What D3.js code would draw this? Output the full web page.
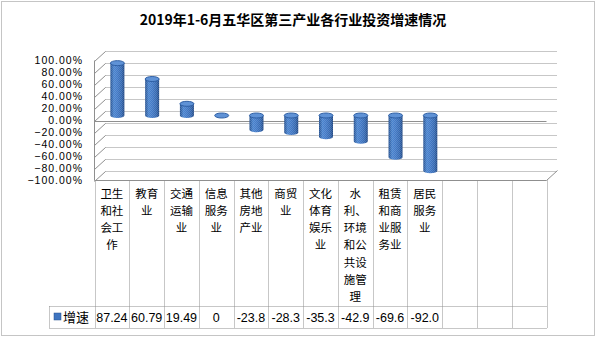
<!DOCTYPE html>
<html><head><meta charset="utf-8">
<script src="https://cdn.jsdelivr.net/npm/d3@7"></script>
<style>html,body{margin:0;padding:0;background:#fff;}svg{display:block;}</style>
</head><body>
<script>
const title = "2019年1-6月五华区第三产业各行业投资增速情况";
const seriesName = "增速";
const categories = ["卫生和社会工作","教育业","交通运输业","信息服务业","其他房地产业","商贸业","文化体育娱乐业","水利、环境和公共设施管理","租赁和商业服务业","居民服务业","","",""];
const values = [87.24, 60.79, 19.49, 0, -23.8, -28.3, -35.3, -42.9, -69.6, -92.0];
const valueLabels = ["87.24","60.79","19.49","0","-23.8","-28.3","-35.3","-42.9","-69.6","-92.0"];
const yTicks = [100, 80, 60, 40, 20, 0, -20, -40, -60, -80, -100];

const W = 596, H = 337;
const svg = d3.select("body").append("svg").attr("width", W).attr("height", H);

const defs = svg.append("defs");
const g1 = defs.append("linearGradient").attr("id","cyl").attr("x1","0").attr("x2","1").attr("y1","0").attr("y2","0");
[["0%","#24508f"],["25%","#4a84cf"],["50%","#4279c6"],["80%","#3367b0"],["100%","#1f4682"]].forEach(([o,c])=>g1.append("stop").attr("offset",o).attr("stop-color",c));
const pat = defs.append("pattern").attr("id","dith").attr("width",2).attr("height",2).attr("patternUnits","userSpaceOnUse");
pat.append("rect").attr("width",1).attr("height",1).attr("fill","#ffffff").attr("opacity",0.15);
pat.append("rect").attr("x",1).attr("y",1).attr("width",1).attr("height",1).attr("fill","#ffffff").attr("opacity",0.15);

svg.append("rect").attr("x",1.5).attr("y",1.5).attr("width",593).attr("height",334)
  .attr("fill","none").attr("stroke","#8a8a8a").attr("stroke-dasharray","1 1");

svg.append("text").attr("x",293).attr("y",25).attr("text-anchor","middle")
  .attr("font-family","'Noto Sans CJK SC', sans-serif").attr("font-weight","bold").attr("font-size",14)
  .attr("fill","#000").text(title);

const left = 94.5, right = 546.5;
const dx = 11, dy = -10;
const x = d3.scaleBand().domain(d3.range(categories.length)).range([left, right]).padding(0);
const y = d3.scaleLinear().domain([-100, 100]).range([180.5, 60.5]);
const grid = "#8f8f8f";

const gg = svg.append("g");
yTicks.forEach(t => {
  const yf = Math.round(y(t)) + 0.5;
  gg.append("line").attr("x1",left+dx).attr("x2",right+dx).attr("y1",yf+dy).attr("y2",yf+dy)
    .attr("stroke",grid).attr("stroke-dasharray","1 1");
  gg.append("line").attr("x1",left).attr("x2",left+dx).attr("y1",yf).attr("y2",yf+dy)
    .attr("stroke",grid);
});
gg.append("line").attr("x1",left).attr("x2",left).attr("y1",y(100)).attr("y2",y(-100)).attr("stroke",grid);
gg.append("line").attr("x1",left).attr("x2",right).attr("y1",Math.round(y(0))+0.5).attr("y2",Math.round(y(0))+0.5).attr("stroke",grid);
gg.append("line").attr("x1",right).attr("x2",right+dx).attr("y1",y(-100)).attr("y2",y(-100)+dy).attr("stroke",grid);

svg.append("g").selectAll("text").data(yTicks).join("text")
  .attr("x",83).attr("y",d=>y(d)).attr("dy","0.35em").attr("text-anchor","end")
  .attr("font-family","'Liberation Sans', Arial, sans-serif").attr("font-size",10.5)
  .attr("letter-spacing","1px").attr("fill","#000")
  .text(d=>d3.format(".2f")(d)+"%");

const rx = 7, ry = 2.5;
const ymid = v => y(v) + dy/2;
const cg = svg.append("g");
values.forEach((v,i) => {
  const cx = x(i) + x.bandwidth()/2 + dx/2;
  const yUp = Math.min(ymid(v), ymid(0));
  const yLo = Math.max(ymid(v), ymid(0));
  const body = `M${cx-rx},${yUp} L${cx-rx},${yLo} A${rx},${ry} 0 0 0 ${cx+rx},${yLo} L${cx+rx},${yUp} Z`;
  if (yLo - yUp > 0.5) {
    cg.append("path").attr("d",body).attr("fill","url(#cyl)");
    cg.append("path").attr("d",body).attr("fill","url(#dith)");
  }
  cg.append("ellipse").attr("cx",cx).attr("cy",yUp).attr("rx",rx).attr("ry",ry)
    .attr("fill","#5f92d6").attr("stroke","#2f5fa4");
});

const tg = svg.append("g");
const tTop = 180.5, rowTop = 306.5, tBot = 328.5;
d3.range(categories.length + 1).forEach(i => {
  const xx = Math.round(left + i * x.bandwidth()) + 0.5;
  tg.append("line").attr("x1",xx).attr("x2",xx).attr("y1",tTop).attr("y2",tBot)
    .attr("stroke",grid).attr("stroke-dasharray","1 1");
});
tg.append("line").attr("x1",left).attr("x2",right).attr("y1",tTop).attr("y2",tTop).attr("stroke",grid);
[rowTop, tBot].forEach(yy => tg.append("line").attr("x1",49.5).attr("x2",right).attr("y1",yy).attr("y2",yy)
  .attr("stroke",grid).attr("stroke-dasharray","1 1"));
tg.append("line").attr("x1",49.5).attr("x2",49.5).attr("y1",rowTop).attr("y2",tBot).attr("stroke",grid).attr("stroke-dasharray","1 1");

function wrap(s) {
  const chars = Array.from(s), lines = [];
  let i = 0;
  while (i < chars.length) {
    let n = Math.min(2, chars.length - i);
    if (n === 2 && chars[i+2] === "、") n = 1;
    let line = chars.slice(i, i+n).join("");
    i += n;
    if (chars[i] === "、") { line += "、"; i++; }
    lines.push(line);
  }
  return lines;
}
categories.forEach((c,i) => {
  const cx = x(i) + x.bandwidth()/2;
  const lines = wrap(c);
  const t = tg.append("text").attr("text-anchor","middle")
    .attr("font-family","'Noto Sans CJK SC', sans-serif").attr("font-size",11.5).attr("fill","#000");
  lines.forEach((l,k) => t.append("tspan").attr("x",cx).attr("y",193.5 + k*17.3).attr("dy","0.35em").text(l));
});
valueLabels.forEach((s,i) => {
  tg.append("text").attr("x", x(i) + x.bandwidth()/2).attr("y",317.5).attr("dy","0.35em")
    .attr("text-anchor","middle").attr("font-family","'Liberation Sans', Arial, sans-serif")
    .attr("font-size",12.5).attr("fill","#000").text(s);
});
tg.append("rect").attr("x",54).attr("y",313).attr("width",7).attr("height",7).attr("fill","#3f75c0").attr("stroke","#24508f").attr("stroke-width",0.5);
tg.append("text").attr("x",63).attr("y",317.5).attr("dy","0.35em").attr("font-family","'Noto Sans CJK SC', sans-serif")
  .attr("font-size",13).attr("fill","#000").text(seriesName);
</script>
</body></html>
